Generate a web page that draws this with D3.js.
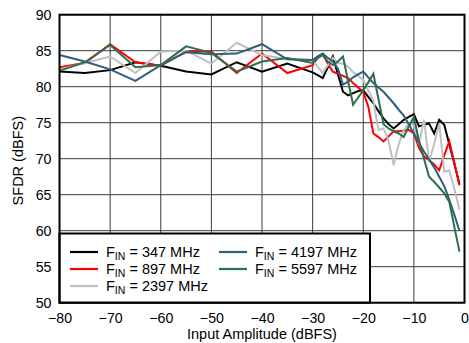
<!DOCTYPE html>
<html><head><meta charset="utf-8">
<script src="https://cdn.jsdelivr.net/npm/d3@7"></script>
<style>body{margin:0;background:#fff}svg{display:block}text{font-family:"Liberation Sans",Arial,sans-serif;fill:#000}</style>
</head><body><svg id="c" width="469" height="343"></svg>
<script>
const amplitudes = [-80,-75,-70,-65,-60,-55,-50,-45,-40,-35,-30,-29,-28,-27,-26,-25,-24,-23,-22,-21,-20,-19,-18,-17,-16,-15,-14,-13,-12,-11,-10,-9,-8,-7,-6,-5,-4,-3,-2,-1];
const sfdr347  = [82.1,81.9,82.3,83.4,82.9,82.1,81.7,83.4,82.1,83.2,82.0,81.6,81.2,82.7,84.2,81.7,79.3,78.8,79.1,79.4,79.5,78.6,77.7,76.6,75.6,74.8,74.2,74.8,75.4,75.8,76.2,74.5,74.7,74.9,73.5,75.4,74.7,72.0,69.3,66.5];
const sfdr897  = [82.7,83.3,85.9,83.4,82.9,84.9,84.9,81.9,84.6,81.9,83.0,84.0,84.5,83.2,82.1,81.8,81.5,81.2,80.5,79.9,79.3,77.2,73.5,73.0,72.4,73.1,73.8,73.8,73.9,74.0,73.5,71.5,70.3,69.8,69.2,68.4,70.5,72.4,69.4,66.3];
const sfdr2397 = [82.4,83.3,84.2,81.9,84.9,85.0,83.2,86.1,84.4,83.8,83.7,82.8,81.9,83.0,84.0,83.3,83.2,82.8,82.0,81.5,80.9,79.5,78.0,74.0,74.2,72.5,69.1,72.0,74.0,74.9,74.7,72.0,75.4,69.6,72.0,74.9,68.2,68.4,65.8,62.9];
const sfdr4197 = [84.4,83.5,82.4,80.8,83.0,84.8,84.5,84.6,85.9,83.8,83.7,84.2,84.6,84.0,83.5,82.5,80.3,80.7,81.3,81.7,82.1,81.3,80.5,79.9,79.3,78.5,77.7,76.8,76.0,74.8,73.5,72.2,71.0,69.9,68.8,67.5,66.2,64.3,62.2,60.0];
const sfdr5597 = [82.2,83.4,85.8,82.7,83.0,85.6,84.7,82.1,83.5,84.0,83.3,84.0,84.4,83.5,83.0,83.5,84.2,80.8,77.5,78.5,79.5,80.6,81.8,78.3,74.8,74.2,73.8,73.5,73.0,74.5,75.8,72.5,70.0,67.5,66.8,66.0,65.2,64.0,60.5,57.1];
const seriesNames = ["347 MHz","897 MHz","2397 MHz","4197 MHz","5597 MHz"];
const seriesColors = ["#000000","#ff0000","#c0c0c0","#2f5f7e","#2e6e4c"];
const xTicks = [-80,-70,-60,-50,-40,-30,-20,-10,0];
const yTicks = [50,55,60,65,70,75,80,85,90];
const xTitle = "Input Amplitude (dBFS)";
const yTitle = "SFDR (dBFS)";

const allSeries = [sfdr347,sfdr897,sfdr2397,sfdr4197,sfdr5597];
const svg = d3.select("#c");
const L=59.5, R=464.5, T=14.7, B=302.7;
const x = d3.scaleLinear().domain([-80,0]).range([L,R]);
const y = d3.scaleLinear().domain([50,90]).range([B,T]);

// grid
const g = svg.append("g");
g.selectAll("line.v").data(xTicks).join("line")
  .attr("x1",d=>x(d)).attr("x2",d=>x(d)).attr("y1",T).attr("y2",B)
  .attr("stroke","#3c3c3c").attr("stroke-width",1);
g.selectAll("line.h").data(yTicks).join("line")
  .attr("y1",d=>y(d)).attr("y2",d=>y(d)).attr("x1",L).attr("x2",R)
  .attr("stroke","#3c3c3c").attr("stroke-width",1);

// axes labels via d3 axes
const xAxis = svg.append("g").attr("transform",`translate(0,${B})`)
  .call(d3.axisBottom(x).tickValues(xTicks).tickSize(0).tickPadding(10).tickFormat(d3.format("d")));
const yAxis = svg.append("g").attr("transform",`translate(${L},0)`)
  .call(d3.axisLeft(y).tickValues(yTicks).tickSize(0).tickPadding(8).tickFormat(d3.format("d")));
[xAxis,yAxis].forEach(a=>{a.select(".domain").remove();a.selectAll("text").attr("font-size",14.2).attr("font-family","Liberation Sans, Arial, sans-serif").attr("fill","#000");});

// lines
const line = d3.line().x((d,i)=>x(amplitudes[i])).y(d=>y(d));
allSeries.forEach((s,i)=>{
  svg.append("path").datum(s).attr("d",line).attr("fill","none")
    .attr("stroke",seriesColors[i]).attr("stroke-width",2).attr("stroke-linejoin","miter");
});

// legend
const lg = svg.append("g");
lg.append("rect").attr("x",L).attr("y",233.5).attr("width",370-L).attr("height",B-233.5)
  .attr("fill","#fff").attr("stroke","#000").attr("stroke-width",2);
const legendPos = [[70,252],[70,269],[70,286],[219,252],[219,269]];
seriesNames.forEach((n,i)=>{
  const [lx,ly]=legendPos[i];
  lg.append("line").attr("x1",lx).attr("x2",lx+28).attr("y1",ly).attr("y2",ly)
    .attr("stroke",seriesColors[i]).attr("stroke-width",2.2);
  const t = lg.append("text").attr("x",lx+36).attr("y",ly+5).attr("font-size",14.5);
  t.append("tspan").text("F");
  t.append("tspan").attr("font-size",10.5).attr("dy",3).text("IN");
  t.append("tspan").attr("dy",-3).text(" = "+n);
});

// frame
svg.append("rect").attr("x",L).attr("y",T).attr("width",R-L).attr("height",B-T)
  .attr("fill","none").attr("stroke","#000").attr("stroke-width",2);

// titles
svg.append("text").attr("x",(L+R)/2).attr("y",339).attr("text-anchor","middle").attr("font-size",14.5).text(xTitle);
svg.append("text").attr("transform",`translate(23,${(T+B)/2+2}) rotate(-90)`).attr("text-anchor","middle").attr("font-size",14.5).text(yTitle);
</script></body></html>
